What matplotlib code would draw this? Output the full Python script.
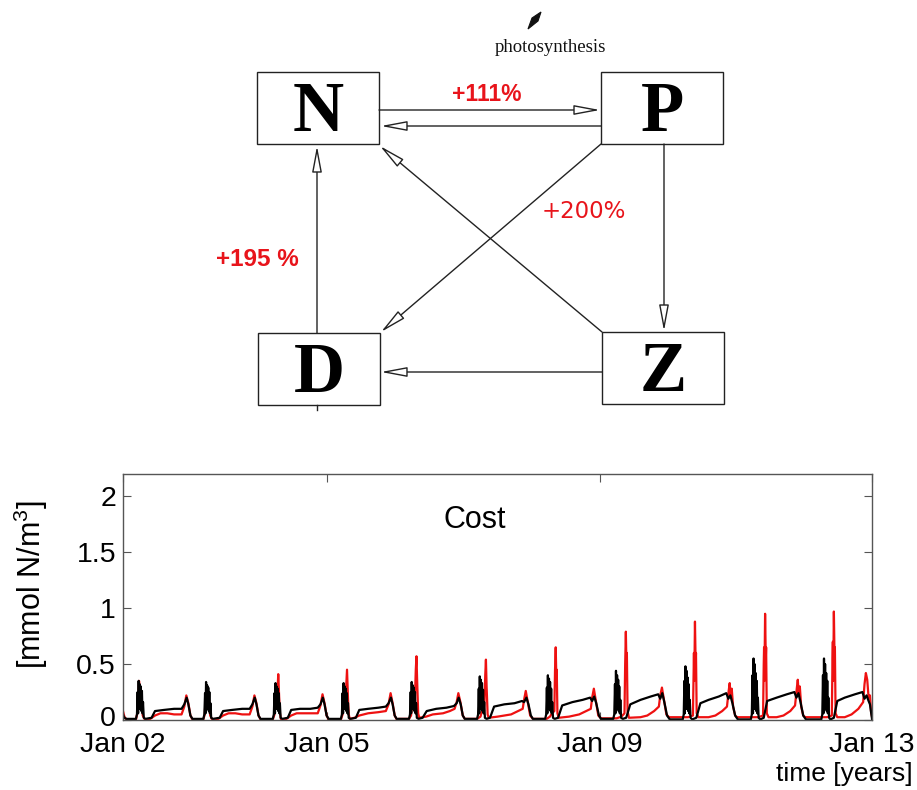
import matplotlib
matplotlib.use('Agg')
import matplotlib.pyplot as plt
import matplotlib.transforms as mtransforms
from matplotlib.patches import Rectangle, FancyArrowPatch, Polygon

plt.rcParams['font.family'] = ['Liberation Sans', 'DejaVu Sans']
plt.rcParams['mathtext.fontset'] = 'custom'
plt.rcParams['mathtext.rm'] = 'Liberation Sans'

# ---- NPZD box model ----
BOXES = ['N', 'P', 'D', 'Z']
FLUX_LABELS = ['+111%', '+200%', '+195 %']

# ---- model cost, (time in years, mmol N/m3) ----
COST_RED = [
    (2.00, 0.08), (2.02, 0.03), (2.05, 0.005), (2.19, 0.005), (2.21, 0.06), (2.235, 0.35), (2.25, 0.28),
    (2.27, 0.22), (2.29, 0.04), (2.32, 0.005), (2.40, 0.01), (2.47, 0.04), (2.55, 0.06), (2.65, 0.06),
    (2.75, 0.05), (2.86, 0.05), (2.90, 0.12), (2.93, 0.22), (2.96, 0.15), (2.99, 0.04), (3.02, 0.005),
    (3.05, 0.005), (3.18, 0.005), (3.20, 0.05), (3.225, 0.30), (3.24, 0.25), (3.26, 0.20), (3.28, 0.04),
    (3.31, 0.005), (3.40, 0.01), (3.47, 0.04), (3.55, 0.06), (3.65, 0.06), (3.75, 0.05), (3.86, 0.05),
    (3.90, 0.12), (3.93, 0.22), (3.96, 0.15), (3.99, 0.04), (4.02, 0.005),
    (4.05, 0.005), (4.20, 0.005), (4.225, 0.05), (4.25, 0.25), (4.265, 0.20), (4.28, 0.41), (4.295, 0.18),
    (4.305, 0.06), (4.32, 0.005), (4.40, 0.01), (4.47, 0.04), (4.55, 0.06), (4.65, 0.06), (4.75, 0.06),
    (4.86, 0.06), (4.90, 0.13), (4.93, 0.23), (4.96, 0.15), (4.99, 0.04), (5.02, 0.005),
    (5.05, 0.005), (5.20, 0.005), (5.225, 0.05), (5.25, 0.25), (5.27, 0.20), (5.29, 0.45), (5.305, 0.18),
    (5.315, 0.05), (5.33, 0.01), (5.40, 0.02), (5.47, 0.04), (5.60, 0.06), (5.75, 0.07), (5.86, 0.08),
    (5.90, 0.14), (5.93, 0.24), (5.96, 0.15), (5.99, 0.04), (6.02, 0.005),
    (6.05, 0.01), (6.20, 0.01), (6.23, 0.04), (6.26, 0.20), (6.285, 0.15), (6.30, 0.45), (6.31, 0.57),
    (6.32, 0.35), (6.335, 0.06), (6.35, 0.02), (6.45, 0.03), (6.55, 0.05), (6.70, 0.06), (6.80, 0.08),
    (6.87, 0.10), (6.90, 0.16), (6.925, 0.24), (6.955, 0.16), (6.99, 0.04), (7.02, 0.01),
    (7.05, 0.01), (7.20, 0.01), (7.25, 0.03), (7.28, 0.10), (7.305, 0.08), (7.32, 0.40), (7.33, 0.54),
    (7.34, 0.30), (7.355, 0.05), (7.37, 0.02), (7.50, 0.03), (7.60, 0.04), (7.70, 0.05), (7.80, 0.08),
    (7.87, 0.10), (7.89, 0.18), (7.915, 0.26), (7.945, 0.16), (7.98, 0.04), (8.02, 0.01),
    (8.05, 0.01), (8.22, 0.01), (8.27, 0.03), (8.30, 0.06), (8.335, 0.08), (8.345, 0.45), (8.355, 0.65),
    (8.365, 0.35), (8.37, 0.45), (8.38, 0.06), (8.40, 0.02), (8.55, 0.03), (8.70, 0.05), (8.80, 0.08),
    (8.87, 0.10), (8.89, 0.20), (8.915, 0.28), (8.945, 0.17), (8.98, 0.04), (9.02, 0.015),
    (9.05, 0.015), (9.25, 0.015), (9.32, 0.03), (9.365, 0.06), (9.375, 0.50), (9.385, 0.79),
    (9.395, 0.45), (9.40, 0.60), (9.41, 0.08), (9.43, 0.02), (9.60, 0.025), (9.70, 0.04), (9.80, 0.08),
    (9.87, 0.12), (9.89, 0.22), (9.915, 0.29), (9.945, 0.18), (9.98, 0.05), (10.02, 0.025),
    (10.05, 0.025), (10.30, 0.025), (10.37, 0.04), (10.38, 0.45), (10.385, 0.60), (10.39, 0.35),
    (10.40, 0.88), (10.41, 0.50), (10.415, 0.60), (10.425, 0.06), (10.45, 0.025), (10.60, 0.025),
    (10.70, 0.04), (10.80, 0.08), (10.87, 0.12), (10.895, 0.26), (10.91, 0.33), (10.925, 0.20),
    (10.94, 0.28), (10.96, 0.12), (10.99, 0.04), (11.02, 0.025),
    (11.05, 0.025), (11.33, 0.025), (11.40, 0.04), (11.41, 0.50), (11.415, 0.65), (11.42, 0.35),
    (11.43, 0.95), (11.44, 0.55), (11.445, 0.65), (11.455, 0.06), (11.48, 0.025), (11.60, 0.025),
    (11.70, 0.04), (11.80, 0.08), (11.87, 0.13), (11.895, 0.28), (11.91, 0.36), (11.925, 0.22),
    (11.94, 0.30), (11.96, 0.12), (11.99, 0.04), (12.02, 0.025),
    (12.05, 0.025), (12.34, 0.025), (12.41, 0.04), (12.42, 0.55), (12.425, 0.70), (12.43, 0.35),
    (12.44, 0.97), (12.45, 0.55), (12.455, 0.65), (12.465, 0.06), (12.49, 0.025), (12.60, 0.025),
    (12.70, 0.05), (12.80, 0.10), (12.87, 0.16), (12.89, 0.32), (12.91, 0.42), (12.93, 0.36),
    (12.95, 0.20), (12.97, 0.22), (12.985, 0.08), (13.00, 0.03),
]

COST_BLACK = [
    (2.00, 0.05), (2.02, 0.02), (2.05, 0.01), (2.19, 0.01), (2.205, 0.05), (2.215, 0.25), (2.222, 0.06),
    (2.23, 0.35), (2.238, 0.10), (2.246, 0.32), (2.254, 0.10), (2.262, 0.30), (2.27, 0.08), (2.278, 0.26),
    (2.286, 0.06), (2.294, 0.16), (2.305, 0.02), (2.33, 0.01), (2.42, 0.02), (2.47, 0.08), (2.60, 0.09),
    (2.75, 0.10), (2.86, 0.10), (2.90, 0.14), (2.935, 0.20), (2.96, 0.14), (2.99, 0.04), (3.02, 0.01),
    (3.05, 0.01), (3.18, 0.01), (3.195, 0.05), (3.205, 0.24), (3.212, 0.06), (3.22, 0.34), (3.228, 0.10),
    (3.236, 0.31), (3.244, 0.10), (3.252, 0.29), (3.26, 0.08), (3.268, 0.25), (3.276, 0.06), (3.284, 0.15),
    (3.295, 0.02), (3.32, 0.01), (3.42, 0.02), (3.47, 0.08), (3.60, 0.09), (3.75, 0.10), (3.86, 0.10),
    (3.90, 0.14), (3.935, 0.20), (3.96, 0.14), (3.99, 0.04), (4.02, 0.01),
    (4.05, 0.01), (4.20, 0.01), (4.215, 0.05), (4.225, 0.24), (4.232, 0.06), (4.24, 0.33), (4.248, 0.10),
    (4.256, 0.30), (4.264, 0.10), (4.272, 0.28), (4.28, 0.08), (4.288, 0.24), (4.296, 0.06), (4.304, 0.15),
    (4.315, 0.02), (4.34, 0.01), (4.42, 0.02), (4.47, 0.09), (4.60, 0.10), (4.75, 0.10), (4.86, 0.11),
    (4.90, 0.14), (4.935, 0.20), (4.96, 0.14), (4.99, 0.04), (5.02, 0.01),
    (5.05, 0.01), (5.20, 0.01), (5.215, 0.05), (5.225, 0.24), (5.232, 0.06), (5.24, 0.33), (5.248, 0.10),
    (5.256, 0.30), (5.264, 0.10), (5.272, 0.28), (5.28, 0.08), (5.288, 0.24), (5.296, 0.06), (5.304, 0.15),
    (5.315, 0.02), (5.34, 0.01), (5.42, 0.02), (5.47, 0.09), (5.60, 0.10), (5.75, 0.11), (5.86, 0.12),
    (5.90, 0.15), (5.935, 0.20), (5.96, 0.14), (5.99, 0.04), (6.02, 0.01),
    (6.05, 0.01), (6.20, 0.01), (6.215, 0.05), (6.225, 0.25), (6.232, 0.06), (6.24, 0.34), (6.248, 0.10),
    (6.256, 0.31), (6.264, 0.10), (6.272, 0.29), (6.28, 0.08), (6.288, 0.25), (6.296, 0.06), (6.304, 0.15),
    (6.315, 0.02), (6.34, 0.01), (6.40, 0.02), (6.46, 0.08), (6.60, 0.10), (6.75, 0.11), (6.86, 0.125),
    (6.90, 0.15), (6.93, 0.20), (6.96, 0.14), (6.99, 0.04), (7.02, 0.01),
    (7.05, 0.01), (7.20, 0.01), (7.215, 0.05), (7.225, 0.28), (7.232, 0.06), (7.24, 0.39), (7.248, 0.10),
    (7.256, 0.36), (7.264, 0.10), (7.272, 0.33), (7.28, 0.08), (7.288, 0.27), (7.296, 0.06), (7.304, 0.16),
    (7.315, 0.02), (7.34, 0.01), (7.39, 0.02), (7.45, 0.12), (7.60, 0.14), (7.75, 0.15), (7.86, 0.17),
    (7.89, 0.16), (7.925, 0.20), (7.955, 0.14), (7.99, 0.04), (8.02, 0.01),
    (8.05, 0.01), (8.20, 0.01), (8.215, 0.05), (8.225, 0.29), (8.232, 0.06), (8.24, 0.40), (8.248, 0.10),
    (8.256, 0.37), (8.264, 0.10), (8.272, 0.34), (8.28, 0.08), (8.288, 0.28), (8.296, 0.06), (8.304, 0.16),
    (8.315, 0.02), (8.34, 0.01), (8.39, 0.02), (8.45, 0.13), (8.60, 0.16), (8.75, 0.18), (8.86, 0.20),
    (8.89, 0.17), (8.92, 0.21), (8.95, 0.15), (8.99, 0.04), (9.02, 0.01),
    (9.05, 0.01), (9.20, 0.01), (9.215, 0.05), (9.225, 0.32), (9.232, 0.06), (9.24, 0.44), (9.248, 0.10),
    (9.256, 0.40), (9.264, 0.10), (9.272, 0.36), (9.28, 0.08), (9.288, 0.30), (9.296, 0.06), (9.304, 0.18),
    (9.315, 0.02), (9.34, 0.01), (9.39, 0.02), (9.45, 0.14), (9.60, 0.18), (9.75, 0.21), (9.86, 0.23),
    (9.89, 0.19), (9.92, 0.24), (9.95, 0.16), (9.99, 0.04), (10.03, 0.005),
    (10.05, 0.005), (10.22, 0.005), (10.235, 0.05), (10.245, 0.35), (10.252, 0.06), (10.26, 0.48),
    (10.268, 0.10), (10.276, 0.44), (10.284, 0.10), (10.292, 0.38), (10.30, 0.08), (10.308, 0.32),
    (10.316, 0.06), (10.324, 0.18), (10.335, 0.02), (10.36, 0.005), (10.42, 0.02), (10.48, 0.15),
    (10.60, 0.18), (10.75, 0.21), (10.86, 0.24), (10.89, 0.19), (10.92, 0.22), (10.95, 0.15),
    (10.99, 0.04), (11.03, 0.005),
    (11.05, 0.005), (11.22, 0.005), (11.235, 0.05), (11.245, 0.40), (11.252, 0.06), (11.26, 0.55),
    (11.268, 0.10), (11.276, 0.50), (11.284, 0.10), (11.292, 0.42), (11.30, 0.08), (11.308, 0.35),
    (11.316, 0.06), (11.324, 0.20), (11.335, 0.02), (11.36, 0.005), (11.41, 0.02), (11.46, 0.17),
    (11.60, 0.20), (11.75, 0.23), (11.86, 0.25), (11.89, 0.20), (11.92, 0.24), (11.95, 0.16),
    (11.99, 0.04), (12.03, 0.005),
    (12.05, 0.005), (12.255, 0.005), (12.27, 0.05), (12.28, 0.40), (12.287, 0.06), (12.295, 0.55),
    (12.303, 0.10), (12.311, 0.50), (12.319, 0.10), (12.327, 0.42), (12.335, 0.08), (12.343, 0.35),
    (12.351, 0.06), (12.359, 0.20), (12.37, 0.02), (12.39, 0.005), (12.44, 0.02), (12.49, 0.17),
    (12.60, 0.20), (12.75, 0.23), (12.86, 0.25), (12.89, 0.19), (12.92, 0.22), (12.95, 0.17),
    (12.97, 0.14), (13.00, 0.01),
]

XTICKS = [2, 5, 9, 13]
XTICK_LABELS = ['Jan 02', 'Jan 05', 'Jan 09', 'Jan 13']
YTICKS = [0, 0.5, 1, 1.5, 2]
YTICK_LABELS = ['0', '0.5', '1', '1.5', '2']

RED = '#e8141b'
LINE = '#222222'

fig = plt.figure(figsize=(9.17, 7.90), dpi=100)

# ---------- diagram (pixel coordinates) ----------
dg = fig.add_axes([0, 0, 1, 1])
dg.set_xlim(0, 917)
dg.set_ylim(790, 0)
dg.axis('off')

box_xy = {'N': (257, 72), 'P': (601, 72), 'D': (258, 333), 'Z': (602, 332)}
for name in BOXES:
    x0, y0 = box_xy[name]
    dg.add_patch(Rectangle((x0, y0), 122, 72, fill=False, ec=LINE, lw=1.0))
    dg.text(x0 + 61, y0 + 59, name, ha='center', va='baseline',
            family='Liberation Serif', fontweight='bold', fontsize=51)


def arrow(p0, p1):
    dg.add_patch(FancyArrowPatch(p0, p1, arrowstyle='-|>,head_length=1.6,head_width=0.3',
                                 mutation_scale=10, fc='white', ec=LINE, lw=1.0,
                                 shrinkA=0, shrinkB=0))


arrow((379, 110), (600, 110))   # N -> P
arrow((601, 126), (381, 126))   # P -> N
arrow((317, 333), (317, 146))   # D -> N
arrow((664, 144), (664, 331))   # P -> Z
arrow((602, 372), (381, 372))   # Z -> D
arrow((602, 332), (380, 146))   # Z -> N
arrow((601, 144), (381, 332))   # P -> D
dg.plot([317, 317], [405, 410], color=LINE, lw=1.0)

# photosynthesis pointer
dg.add_patch(Polygon([(541, 12), (532, 18), (528, 29), (538, 21)], closed=True,
                     fc='#111111', ec='#111111', lw=0.8))
dg.text(550, 52, 'photosynthesis', ha='center', va='baseline',
        family='Liberation Serif', fontsize=13.5, color='#111111')

dg.text(487, 101, FLUX_LABELS[0], ha='center', va='baseline',
        fontweight='bold', fontsize=16.5, color=RED)
dg.text(584, 218, FLUX_LABELS[1], ha='center', va='baseline',
        family='DejaVu Sans', fontsize=16.5, color=RED)
dg.text(257, 266, FLUX_LABELS[2], ha='center', va='baseline',
        fontweight='bold', fontsize=17.5, color=RED)

# ---------- time series ----------
ax = fig.add_axes([123 / 917, 70 / 790, 749 / 917, 246 / 790])
t_red, v_red = zip(*COST_RED)
t_blk, v_blk = zip(*COST_BLACK)
ax.plot(t_red, v_red, color='#ee1111', lw=1.6)
ax.plot(t_blk, v_blk, color='black', lw=1.6)

ax.set_xlim(2, 13)
ax.set_ylim(0, 2.2)
ax.set_xticks(XTICKS)
ax.set_xticklabels(XTICK_LABELS)
ax.set_yticks(YTICKS)
ax.set_yticklabels(YTICK_LABELS)
ax.tick_params(direction='in', top=True, right=True, length=6, width=0.8,
               color='#555555', labelsize=20.5)
ax.tick_params(axis='x', pad=9)
ax.tick_params(axis='y', pad=5)
for s in ax.spines.values():
    s.set_color('#555555')
    s.set_linewidth(1.0)

# lift the "0" label a touch so it clears "Jan 02"
zero_lbl = ax.get_yticklabels()[0]
zero_lbl.set_transform(zero_lbl.get_transform() +
                       mtransforms.ScaledTranslation(0, 3 / 72, fig.dpi_scale_trans))

ax.text(6.7, 1.72, 'Cost', fontsize=22, va='baseline', ha='left')

fig.text(31 / 917, 1 - 585 / 790, '[mmol N/m$^3$]', rotation=90,
         ha='center', va='center', fontsize=22)
fig.text(913 / 917, 1 - 781 / 790, 'time [years]', ha='right', va='baseline',
         fontsize=19)

fig.savefig('out.png', dpi=100)
